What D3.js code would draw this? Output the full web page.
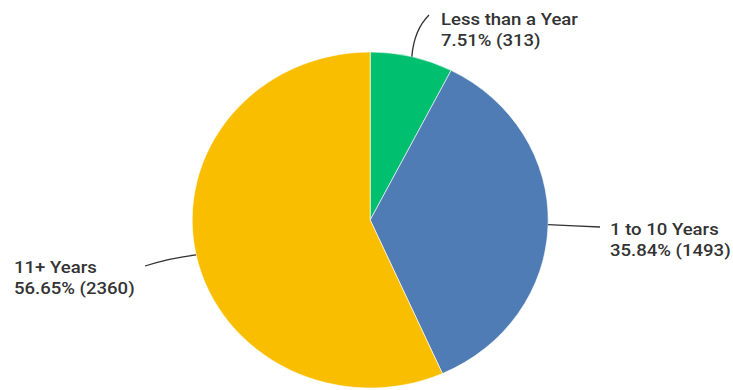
<!DOCTYPE html>
<html>
<head>
<meta charset="utf-8">
<script src="https://cdn.jsdelivr.net/npm/d3@7"></script>
<style>
  html, body { margin: 0; padding: 0; background: #ffffff; }
  svg { display: block; }
  .lbl { font-family: Roboto, "Noto Sans", sans-serif; font-weight: 500; font-size: 16px; fill: #333333; }
</style>
</head>
<body>
<svg id="chart" width="733" height="390"></svg>
<script>
// Tenure groups and respondent counts
const categories = ["Less than a Year", "1 to 10 Years", "11+ Years"];
const counts = [313, 1493, 2360];
const percents = ["7.51%", "35.84%", "56.65%"];
const colors = ["#00bf6f", "#507cb6", "#f9be00"];

// Label placement: end point of each leader line and text anchor
const leaderEnds = [[429, 15], [600, 227], [145, 266]];
const leaderBend = [[414, 30], [575, 226], [170, 258]];
const textPos = [[441, 25], [610, 235], [14, 273]];
const textStretch = 1.16;

const cx = 370.2, cy = 220;
const rx = 178, ry = 168;

const svg = d3.select("#chart");

const pie = d3.pie().sort(null).value(d => d.value).startAngle(0).endAngle(2 * Math.PI);
const data = categories.map((c, i) => ({ name: c, value: counts[i], pct: percents[i], color: colors[i] }));
const arcs = pie(data);

const arc = d3.arc().innerRadius(0).outerRadius(ry);

const pieG = svg.append("g")
  .attr("transform", `translate(${cx},${cy}) scale(${rx / ry},1)`);

pieG.selectAll("path.slice")
  .data(arcs)
  .join("path")
  .attr("class", "slice")
  .attr("d", arc)
  .attr("fill", d => d.data.color)
  .attr("stroke", "#ffffff")
  .attr("stroke-width", 0.6)
  .attr("vector-effect", "non-scaling-stroke");

// Leader lines start at each slice's mid-angle on the rim
arcs.forEach((a, i) => {
  const mid = (a.startAngle + a.endAngle) / 2;
  const x0 = cx + rx * Math.sin(mid);
  const y0 = cy - ry * Math.cos(mid);
  const [bx, by] = leaderBend[i];
  const [x1, y1] = leaderEnds[i];
  svg.append("path")
    .attr("d", `M${x0},${y0} Q${bx},${by} ${x1},${y1}`)
    .attr("fill", "none")
    .attr("stroke", "#333333")
    .attr("stroke-width", 1.3);

  const t = svg.append("text")
    .attr("class", "lbl")
    .attr("transform", `translate(${textPos[i][0]},${textPos[i][1]}) scale(${textStretch},1)`);
  t.append("tspan").attr("x", 0).text(a.data.name);
  t.append("tspan").attr("x", 0).attr("dy", 21)
    .text(`${a.data.pct} (${a.data.value})`);
});
</script>
</body>
</html>
